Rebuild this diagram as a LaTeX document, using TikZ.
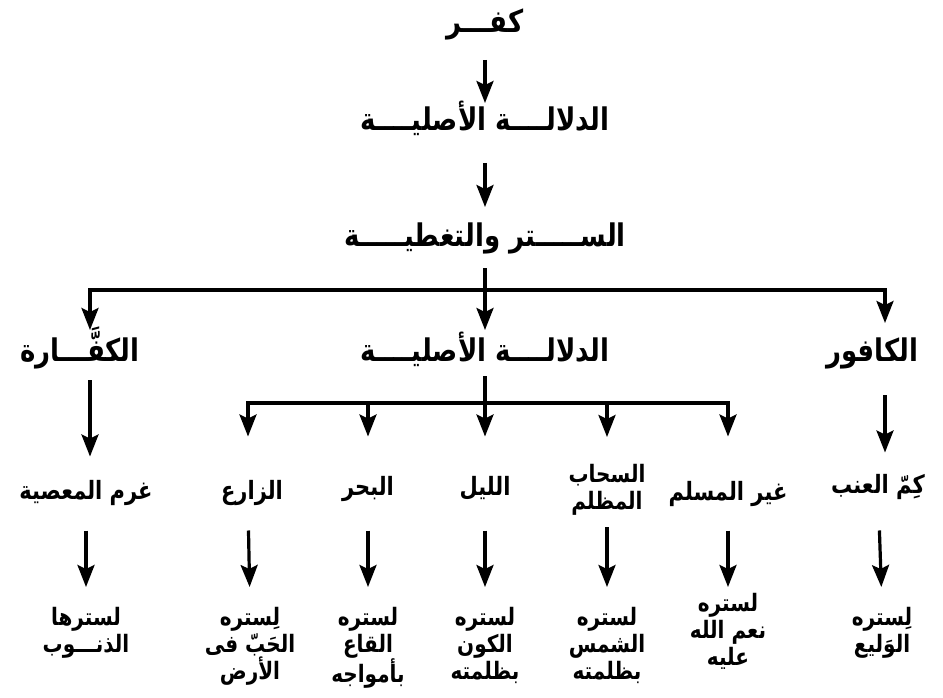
\documentclass[tikz,border=0pt]{standalone}
\usepackage{fontspec}
\usepackage{graphicx}
\usetikzlibrary{arrows.meta}
\newfontfamily\arabicfont[Script=Arabic]{DejaVu Sans}
\TeXXeTstate=1
% right-to-left line, set a little taller than the font's own proportions
\newcommand{\artext}[1]{\scalebox{1}[1.2]{\beginR #1\endR}}

\begin{document}
\begin{tikzpicture}[x=1pt,y=-1pt,
  big/.style={inner sep=0pt, outer sep=0pt,
    font=\arabicfont\bfseries\fontsize{26}{32}\selectfont,
    text height=20pt, text depth=8pt},
  lbl/.style={inner sep=0pt, outer sep=0pt,
    font=\arabicfont\bfseries\fontsize{21}{27}\selectfont,
    text height=17pt, text depth=6pt},
  stack/.style={inner sep=0pt, outer sep=0pt,
    font=\arabicfont\bfseries\fontsize{20}{27}\selectfont,
    align=center, anchor=north},
  ln/.style={line width=3.2pt, line cap=rect},
  arr/.style={line width=3.2pt,
    -{Stealth[length=22pt,width=17pt,inset=4pt]}},
]
\useasboundingbox (0,0) rectangle (943,698);

% main chain
\node[big] (kufr) at (485,27)  {\artext{كفـــر}};
\node[big] (dal)  at (485,125) {\artext{الدلالــــة الأصليــــة}};
\node[big] (satr) at (485,240) {\artext{الســـــتر والتغطيـــــة}};

% second level
\node[big] (kaff)  at (80,355)  {\artext{الكفَّـــارة}};
\node[big] (dal2)  at (485,355) {\artext{الدلالــــة الأصليــــة}};
\node[big] (kafur) at (872,355) {\artext{الكافور}};

% third level
\node[lbl]   (ghurm) at (86,494)  {\artext{غرم المعصية}};
\node[lbl]   (zari)  at (252,494) {\artext{الزارع}};
\node[lbl]   (bahr)  at (368,490) {\artext{البحر}};
\node[lbl]   (layl)  at (485,490) {\artext{الليل}};
\node[stack] (sahab) at (607,464) {\artext{السحاب}\\\artext{المظلم}};
\node[lbl]   (ghayr) at (728,495) {\artext{غير المسلم}};
\node[lbl]   (kimm)  at (878,488) {\artext{كِمّ العنب}};

% fourth level
\node[stack] (ghurmB) at (86,607)  {\artext{لسترها}\\\artext{الذنـــوب}};
\node[stack] (zariB)  at (250,607) {\artext{لِستره}\\\artext{الحَبّ فى}\\\artext{الأرض}};
\node[stack] (bahrB)  at (368,607) {\artext{لستره}\\\artext{القاع}\\\artext{بأمواجه}};
\node[stack] (laylB)  at (485,607) {\artext{لستره}\\\artext{الكون}\\\artext{بظلمته}};
\node[stack] (sahabB) at (607,607) {\artext{لستره}\\\artext{الشمس}\\\artext{بظلمته}};
\node[stack] (ghayrB) at (728,593) {\artext{لستره}\\\artext{نعم الله}\\\artext{عليه}};
\node[stack] (kimmB)  at (882,607) {\artext{لِستره}\\\artext{الوَليع}};

% branch points
\coordinate (j1) at (485,290);
\coordinate (hL) at (90,290);
\coordinate (hR) at (885,290);
\coordinate (j2) at (485,403);
\coordinate (m1) at (248,403);
\coordinate (m2) at (368,403);
\coordinate (m3) at (485,403);
\coordinate (m4) at (607,403);
\coordinate (m5) at (728,403);

% main chain connectors
\draw[arr, shorten <=19pt, shorten >=8pt]  (kufr) -- (dal);
\draw[arr, shorten <=24pt, shorten >=19pt] (dal) -- (satr);
\draw[ln, shorten <=16pt] (satr) -- (j1);
\draw[ln] (hL) -- (hR);
\draw[arr, shorten >=11pt] (j1) -- (dal2);
\draw[arr, shorten >=11pt] (hL) -- (hL |- kaff.north);
\draw[arr, shorten >=18pt] (hR) -- (hR |- kafur.north);

% second level to third level
\draw[arr, shorten <=11pt, shorten >=26pt] (hL |- kaff.south) -- (hL |- ghurm.north);
\draw[arr, shorten <=26pt, shorten >=24pt] (hR |- kafur.south) -- (hR |- kimm.north);
\draw[ln, shorten <=9pt] (dal2) -- (j2);
\draw[ln] (m1) -- (m5);
\draw[arr, shorten >=46pt] (m1) -- (m1 |- zari.north);
\draw[arr, shorten >=42pt] (m2) -- (bahr);
\draw[arr, shorten >=42pt] (m3) -- (layl);
\draw[arr, shorten >=27pt] (m4) -- (sahab.north);
\draw[arr, shorten >=47pt] (m5) -- (ghayr);

% third level to fourth level
\draw[arr, shorten <=25pt, shorten >=20pt] (ghurm) -- (ghurmB.north);
\draw[arr, shorten <=25pt, shorten >=20pt] (m1 |- zari.south) -- (zariB.north);
\draw[arr, shorten <=29pt, shorten >=20pt] (bahr) -- (bahrB.north);
\draw[arr, shorten <=29pt, shorten >=20pt] (layl) -- (laylB.north);
\draw[arr, shorten <=12pt, shorten >=20pt] (sahab.south) -- (sahabB.north);
\draw[arr, shorten <=24pt, shorten >=6pt]  (ghayr) -- (ghayrB.north);
\draw[arr, shorten <=31pt, shorten >=20pt] (kimm) -- (kimmB.north);
\end{tikzpicture}
\end{document}
